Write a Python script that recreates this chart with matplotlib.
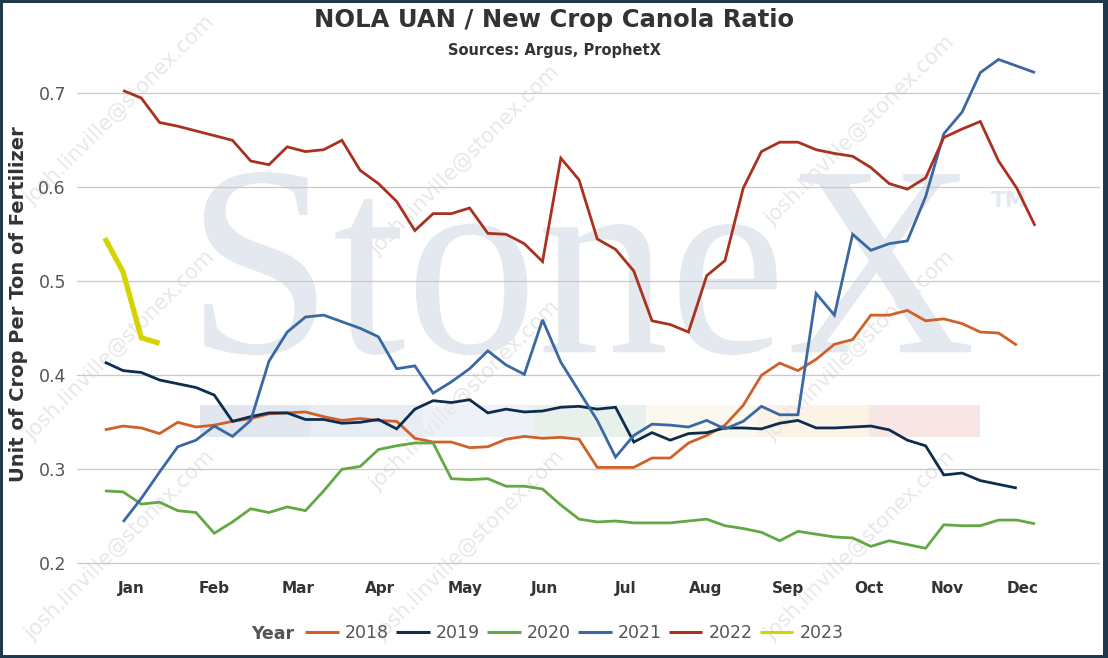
import numpy as np
import matplotlib
matplotlib.use("Agg")
import matplotlib.pyplot as plt
from matplotlib.textpath import TextPath
from matplotlib.patches import PathPatch, Rectangle
from matplotlib.font_manager import FontProperties
import matplotlib.transforms as mtransforms

########################################################################################
# data : weekly NOLA UAN / new crop canola ratio, index = week of year (1..52)
########################################################################################
nan = np.nan
weeks = np.arange(1, 53)

r2018 = [0.342, 0.346, 0.344, 0.338, 0.350, 0.345, 0.347, 0.351, 0.354, 0.359,
         0.360, 0.361, 0.356, 0.352, 0.354, 0.352, 0.351, 0.333, 0.329, 0.329,
         0.323, 0.324, 0.332, 0.335, 0.333, 0.334, 0.332, 0.302, 0.302, 0.302,
         0.312, 0.312, 0.328, 0.336, 0.347, 0.368, 0.400, 0.413, 0.405, 0.417,
         0.433, 0.438, 0.464, 0.464, 0.469, 0.458, 0.460, 0.455, 0.446, 0.445,
         0.432, nan]
r2019 = [0.414, 0.405, 0.403, 0.395, 0.391, 0.387, 0.379, 0.351, 0.356, 0.360,
         0.360, 0.353, 0.353, 0.349, 0.350, 0.353, 0.343, 0.364, 0.373, 0.371,
         0.374, 0.360, 0.364, 0.361, 0.362, 0.366, 0.367, 0.364, 0.366, 0.329,
         0.339, 0.331, 0.338, 0.339, 0.344, 0.344, 0.343, 0.349, 0.352, 0.344,
         0.344, 0.345, 0.346, 0.342, 0.331, 0.325, 0.294, 0.296, 0.288, 0.284,
         0.280, nan]
r2020 = [0.277, 0.276, 0.263, 0.265, 0.256, 0.254, 0.232, 0.244, 0.258, 0.254,
         0.260, 0.256, 0.277, 0.300, 0.303, 0.321, 0.325, 0.328, 0.328, 0.290,
         0.289, 0.290, 0.282, 0.282, 0.279, 0.262, 0.247, 0.244, 0.245, 0.243,
         0.243, 0.243, 0.245, 0.247, 0.240, 0.237, 0.233, 0.224, 0.234, 0.231,
         0.228, 0.227, 0.218, 0.224, 0.220, 0.216, 0.241, 0.240, 0.240, 0.246,
         0.246, 0.242]
r2021 = [nan, 0.244, 0.269, 0.297, 0.324, 0.331, 0.346, 0.335, 0.352, 0.415,
         0.446, 0.462, 0.464, 0.457, 0.450, 0.441, 0.407, 0.410, 0.381, 0.393,
         0.407, 0.426, 0.411, 0.401, 0.459, 0.414, 0.383, 0.352, 0.313, 0.336,
         0.348, 0.347, 0.345, 0.352, 0.343, 0.351, 0.367, 0.358, 0.358, 0.487,
         0.464, 0.550, 0.533, 0.540, 0.543, 0.590, 0.657, 0.680, 0.722, 0.736,
         0.729, 0.722]
r2022 = [nan, 0.703, 0.695, 0.669, 0.665, 0.660, 0.655, 0.650, 0.628, 0.624,
         0.643, 0.638, 0.640, 0.650, 0.618, 0.604, 0.585, 0.554, 0.572, 0.572,
         0.578, 0.551, 0.550, 0.540, 0.521, 0.631, 0.608, 0.545, 0.534, 0.511,
         0.458, 0.454, 0.446, 0.506, 0.522, 0.599, 0.638, 0.648, 0.648, 0.640,
         0.636, 0.633, 0.621, 0.604, 0.598, 0.610, 0.653, 0.662, 0.670, 0.628,
         0.599, 0.559]
r2023 = [0.546, 0.510, 0.440, 0.434] + [nan]*48

years  = ["2018", "2019", "2020", "2021", "2022", "2023"]
series = [r2018, r2019, r2020, r2021, r2022, r2023]
colors = ["#d0602a", "#0e2d4e", "#63a845", "#3a68a2", "#a8321f", "#d4d400"]
widths = [2.0, 2.0, 2.0, 2.0, 2.0, 3.8]

months     = ["Jan", "Feb", "Mar", "Apr", "May", "Jun", "Jul", "Aug", "Sep", "Oct", "Nov", "Dec"]
month_pos  = [2.44, 6.99, 11.59, 16.09, 20.75, 25.13, 29.56, 33.96, 38.44, 42.90, 47.21, 51.32]
yticks     = [0.2, 0.3, 0.4, 0.5, 0.6, 0.7]

########################################################################################
# figure
########################################################################################
W, H = 1108, 658
fig = plt.figure(figsize=(W/100, H/100), dpi=100, facecolor="white")

def fx(px): return px/W
def fy(py): return 1 - py/H

# faint StoneX logo watermark
wm_col = "#e4e8ef"
tp = TextPath((0, 0), "StoneX", size=1, prop=FontProperties(family="Liberation Serif"))
bb = tp.get_extents()
x0, x1, ytop, ybot = 204, 971, 172, 355
tr = (mtransforms.Affine2D().translate(-bb.x0, -bb.y0)
      .scale((fx(x1) - fx(x0))/bb.width, (fy(ytop) - fy(ybot))/bb.height)
      .translate(fx(x0), fy(ybot)) + fig.transFigure)
logo = PathPatch(tp, facecolor=wm_col, edgecolor="none", transform=tr, zorder=-2)
fig.add_artist(logo)
fig.text(fx(991), fy(207), "TM", fontsize=15.5, color=wm_col, fontweight="bold",
         ha="left", va="baseline", zorder=-2)

band_cols = ["#e2e7ef", "#e8ecf3", "#eef2f8", "#e7f0eb", "#fbf9ef", "#fcf3e7", "#f8e6e6"]
bx = np.linspace(200, 980, len(band_cols) + 1)
for i, c in enumerate(band_cols):
    fig.add_artist(Rectangle((fx(bx[i]), fy(437)), fx(bx[i+1]) - fx(bx[i]), fy(405) - fy(437),
                             transform=fig.transFigure, facecolor=c, edgecolor="none", zorder=-2))

# diagonal e-mail watermark
marks = [(120, 110), (120, 345), (120, 545), (465, 160), (465, 395), (470, 545),
         (860, 130), (860, 345), (860, 545)]
for mx, my in marks:
    fig.text(fx(mx), fy(my), "josh.linville@stonex.com", fontsize=15, color="#e8e8e8",
             rotation=45, ha="center", va="center", rotation_mode="anchor", zorder=-1)

ax = fig.add_axes([fx(77), fy(572), fx(1100) - fx(77), fy(55) - fy(572)])
ax.set_facecolor("none")

for y, s, c, lw in zip(years, series, colors, widths):
    ax.plot(weeks, np.array(s, dtype=float), color=c, linewidth=lw, label=y,
            solid_joinstyle="miter", solid_capstyle="butt")

ax.set_xlim(1 + (77 - 104.8)/18.24, 1 + (1100 - 104.8)/18.24)
ax.set_ylim(0.2 - (572 - 563.3)/940, 0.2 + (563.3 - 55)/940)
ax.set_yticks(yticks)
ax.set_yticklabels([f"{v:.1f}" for v in yticks])
ax.set_xticks(month_pos)
ax.set_xticklabels(months, fontweight="bold")
ax.tick_params(axis="y", length=0, pad=8, labelsize=12.5, labelcolor="#555555")
ax.tick_params(axis="x", length=0, pad=6.8, labelsize=11, labelcolor="#333333")
ax.yaxis.grid(True, color="#c8c8c8", linewidth=0.9)
ax.set_axisbelow(True)
for sp in ax.spines.values():
    sp.set_visible(False)

fig.text(0.5, fy(27), "NOLA UAN / New Crop Canola Ratio", fontsize=17.5, fontweight="bold",
         color="#333333", ha="center", va="baseline")
fig.text(0.5, fy(55), "Sources: Argus, ProphetX", fontsize=10.5, fontweight="bold",
         color="#333333", ha="center", va="baseline")
fig.text(fx(18.2), fy(304), "Unit of Crop Per Ton of Fertilizer", fontsize=14, fontweight="bold",
         color="#333333", rotation=90, ha="center", va="center")

# legend
fig.text(fx(251), fy(639), "Year", fontsize=12.5, fontweight="bold", color="#555555",
         ha="left", va="baseline")
leg = ax.legend(loc="center left", bbox_to_anchor=(fx(305), fy(633)), bbox_transform=fig.transFigure,
                ncol=6, frameon=False, fontsize=12.5, handlelength=1.95, handletextpad=0.35,
                columnspacing=0.4, borderpad=0, borderaxespad=0)
for t in leg.get_texts():
    t.set_color("#555555")
for h in leg.get_lines():
    h.set_linewidth(2.2)

# dark frame round the picture
frame = "#20394b"
for (rx, ry, rw, rh) in [(0, 0, W, 3), (0, H - 3, W, 3), (0, 0, 3, H), (W - 5, 0, 5, H)]:
    fig.add_artist(Rectangle((rx/W, ry/H), rw/W, rh/H, transform=fig.transFigure,
                             facecolor=frame, edgecolor="none", zorder=10))

fig.savefig("out.png", dpi=100, facecolor="white")
